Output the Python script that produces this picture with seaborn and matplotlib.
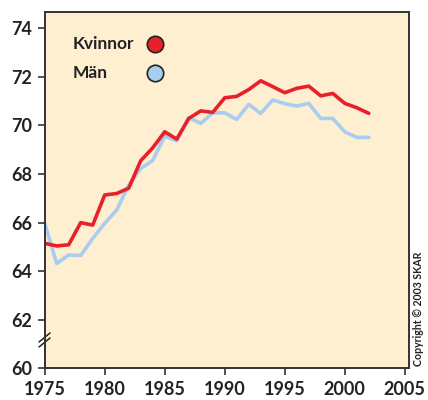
import matplotlib
matplotlib.use("Agg")
import matplotlib.pyplot as plt
import seaborn as sns
import pandas as pd
import numpy as np

years = list(range(1975, 2003))
kvinnor = [65.15, 65.04, 65.09, 66.0, 65.9, 67.14, 67.2, 67.42, 68.55, 69.08,
           69.74, 69.44, 70.29, 70.6, 70.54, 71.14, 71.2, 71.48, 71.84, 71.6,
           71.35, 71.53, 71.62, 71.22, 71.32, 70.91, 70.73, 70.5]
man = [65.97, 64.32, 64.67, 64.65, 65.35, 65.97, 66.52, 67.55, 68.23, 68.56,
       69.56, 69.37, 70.32, 70.09, 70.52, 70.52, 70.25, 70.87, 70.5, 71.05,
       70.9, 70.8, 70.91, 70.29, 70.29, 69.74, 69.51, 69.51]
series_names = ["Kvinnor", "Män"]
xticks = [1975, 1980, 1985, 1990, 1995, 2000, 2005]
yticks = [60, 62, 64, 66, 68, 70, 72, 74]

df = pd.DataFrame({
    "År": years * 2,
    "Värde": kvinnor + man,
    "Kön": [series_names[0]] * len(years) + [series_names[1]] * len(years),
})

sns.set_theme(style="white")
plt.rcParams["font.family"] = ["Lato", "DejaVu Sans"]

RED = "#E8202A"
BLUE = "#A9CDEE"
BG = "#FEEFD1"
DARK = "#333333"
TXT = "#222222"

fig = plt.figure(figsize=(4.28, 4.0), dpi=100)
ax = fig.add_axes([44.7 / 428, 1 - 368.4 / 400, (409 - 44.7) / 428, (368.4 - 12.3) / 400])
ax.set_facecolor(BG)

sns.lineplot(data=df, x="År", y="Värde", hue="Kön", palette={"Kvinnor": RED, "Män": BLUE},
             hue_order=["Män", "Kvinnor"], linewidth=2.6, ax=ax, legend=False)

ax.set_xlim(1975, 2005.35)
ax.set_ylim(60, 74.66)
ax.set_xticks(xticks)
ax.set_yticks(yticks)
ax.set_xticklabels([str(t) for t in xticks], fontsize=13, fontweight="bold", color=TXT)
ax.set_yticklabels([str(t) for t in yticks], fontsize=13, fontweight="bold", color=TXT)
ax.set_xlabel("")
ax.set_ylabel("")
ax.tick_params(axis="both", direction="out", length=5, width=1.2, color=DARK, pad=4,
               bottom=True, left=True)
for s in ax.spines.values():
    s.set_visible(True)
    s.set_color(DARK)
    s.set_linewidth(1.4)

# legend
ax.text(73 / 428, 1 - 44 / 400, "Kvinnor", transform=fig.transFigure, fontsize=12.5,
        fontweight="bold", color=TXT, va="center", ha="left")
ax.text(73 / 428, 1 - 73 / 400, "Män", transform=fig.transFigure, fontsize=12.5,
        fontweight="bold", color=TXT, va="center", ha="left")
ax.scatter([155 / 428], [1 - 44 / 400], s=140, color=RED, edgecolor=TXT, linewidth=1.2,
           transform=fig.transFigure, clip_on=False, zorder=5)
ax.scatter([155 / 428], [1 - 73 / 400], s=140, color=BLUE, edgecolor=TXT, linewidth=1.2,
           transform=fig.transFigure, clip_on=False, zorder=5)

# axis break marks
for dy in (0, 5):
    ax.plot([39 / 428, 50 / 428], [1 - (347 - dy) / 400, 1 - (338 - dy) / 400],
            transform=fig.transFigure, color=TXT, lw=1.1, clip_on=False)

fig.text(418 / 428, 1 - 366 / 400, "Copyright © 2003 SKAR", rotation=90, fontsize=7.6,
         fontweight="bold", color=TXT, ha="center", va="bottom")

fig.savefig("out.png", dpi=100, facecolor="white")
